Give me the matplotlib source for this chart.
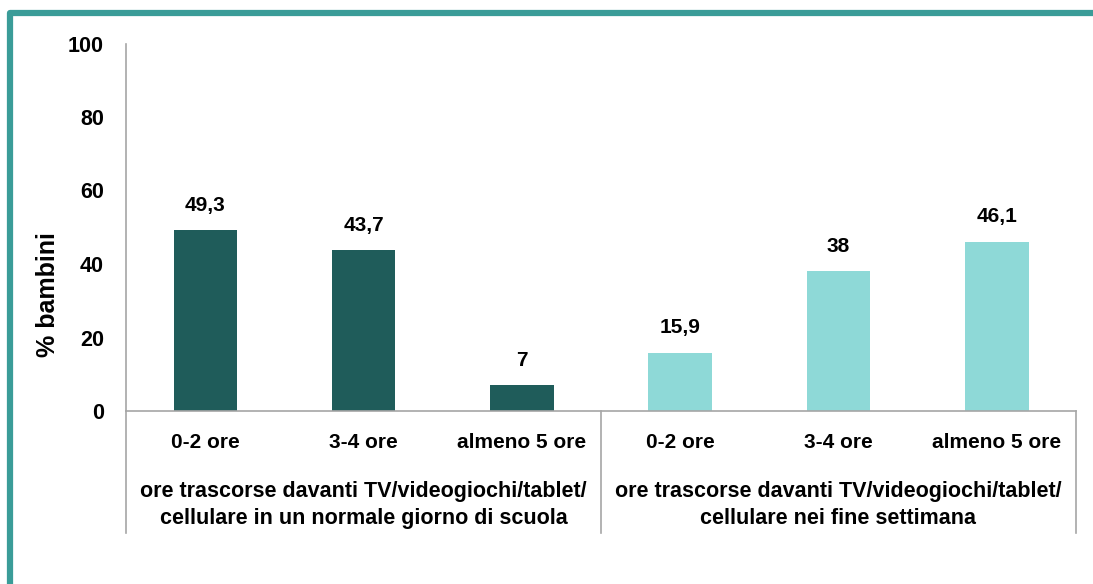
import matplotlib.pyplot as plt
from matplotlib.lines import Line2D

categories = ["0-2 ore", "3-4 ore", "almeno 5 ore", "0-2 ore", "3-4 ore", "almeno 5 ore"]
values = [49.3, 43.7, 7, 15.9, 38, 46.1]
value_labels = ["49,3", "43,7", "7", "15,9", "38", "46,1"]
groups = ["ore trascorse davanti TV/videogiochi/tablet/\ncellulare in un normale giorno di scuola",
          "ore trascorse davanti TV/videogiochi/tablet/\ncellulare nei fine settimana"]
colors = ["#1F5C5A"] * 3 + ["#8ED9D7"] * 3
yticks = [0, 20, 40, 60, 80, 100]

plt.rcParams['font.family'] = ['Liberation Sans', 'DejaVu Sans']
plt.rcParams['font.weight'] = 'bold'

W, H = 1093, 584
fig = plt.figure(figsize=(W / 100, H / 100), dpi=100)
ax = fig.add_axes([126 / W, (H - 411) / H, 950 / W, (411 - 43.5) / H])

x = list(range(len(values)))
ax.bar(x, values, width=0.4, color=colors)
for xi, v, lab in zip(x, values, value_labels):
    ax.annotate(lab, (xi, v), xytext=(0, 11), textcoords='offset points',
                ha='center', va='bottom', fontsize=15, fontweight='bold')

ax.set_xlim(-0.5, 5.5)
ax.set_ylim(0, 100)
ax.set_yticks(yticks)
ax.set_yticklabels([str(t) for t in yticks], fontsize=15.5, fontweight='bold')
ax.tick_params(axis='y', length=0, pad=16)
ax.set_xticks([])
for s in ['top', 'right']:
    ax.spines[s].set_visible(False)
for s in ['left', 'bottom']:
    ax.spines[s].set_color('#A6A6A6')
    ax.spines[s].set_linewidth(1.2)
ax.set_ylabel("% bambini", fontsize=18, fontweight='bold')
ax.yaxis.set_label_coords(-0.069, 0.316)

# category labels and group labels under the axis
tr = ax.get_xaxis_transform()
ax_h = 411 - 43.5
for xi, c in zip(x, categories):
    ax.text(xi, -(442 - 411) / ax_h, c, transform=tr, ha='center', va='center',
            fontsize=15, fontweight='bold')
for gi, g in enumerate(groups):
    ax.text(1 + 3 * gi, -(505 - 411) / ax_h, g, transform=tr, ha='center', va='center',
            fontsize=15.5, fontweight='bold', linespacing=1.35)
for xs in [-0.5, 2.5, 5.5]:
    ax.add_line(Line2D([xs, xs], [0, -(533 - 411) / ax_h], transform=tr,
                       color='#A6A6A6', lw=1.2, clip_on=False))

# teal frame at top and left
fig.add_artist(Line2D([10 / W, 10 / W, 1.05], [-0.05, 1 - 13 / H, 1 - 13 / H],
                      transform=fig.transFigure, color='#3A9C98', lw=4.5,
                      solid_joinstyle='round', solid_capstyle='butt'))

fig.savefig("out.png", dpi=100)
